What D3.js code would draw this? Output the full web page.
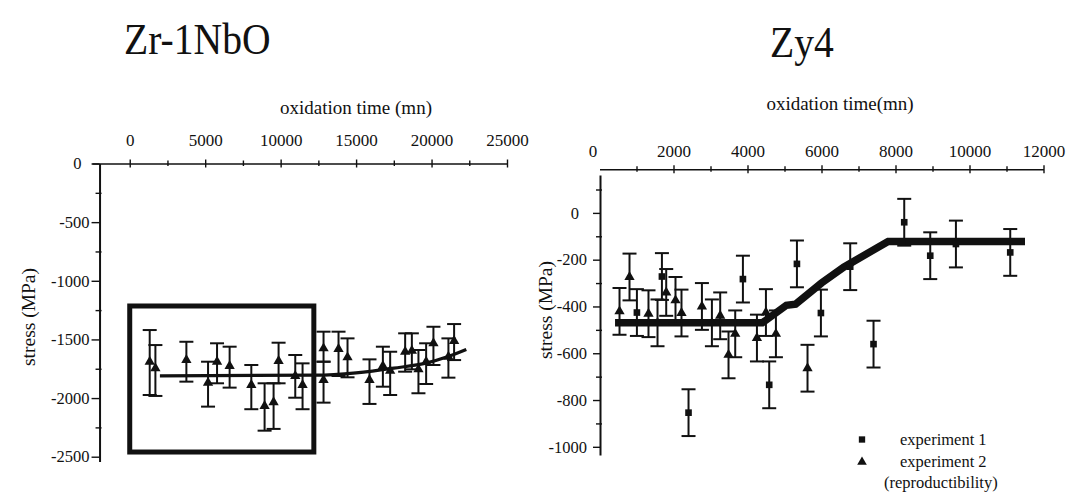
<!DOCTYPE html>
<html>
<head>
<meta charset="utf-8">
<script src="https://cdn.jsdelivr.net/npm/d3@7"></script>
<style>
  body { margin: 0; background: #fff; }
  text { font-family: "Liberation Serif", "Times New Roman", serif; fill: #111; }
</style>
</head>
<body>
<div class="canvas"></div>
<script>
// ---- Zr-1NbO (left panel) ----
const zrTime      = [1324, 1701, 3754, 5190, 5786, 6620, 8057, 8937, 9533, 9864, 10969, 11453, 12843, 12843, 13836, 14432, 15888, 16775, 17258, 18251, 18695, 19132, 19642, 20125, 21118, 21495];
const zrStress    = [-1690, -1746, -1676, -1869, -1690, -1727, -1888, -2067, -2036, -1684, -1812, -1888, -1576, -1846, -1582, -1653, -1846, -1727, -1767, -1605, -1596, -1755, -1690, -1533, -1647, -1514];
const zrErrTop    = [-1420, -1548, -1520, -1690, -1533, -1562, -1718, -1874, -1874, -1528, -1633, -1704, -1434, -1690, -1434, -1491, -1670, -1562, -1605, -1448, -1448, -1590, -1533, -1392, -1491, -1369];
const zrErrBottom = [-1974, -1982, -1860, -2073, -1874, -1911, -2095, -2278, -2263, -1874, -1997, -2095, -1690, -2039, -1812, -1823, -2050, -1903, -1974, -1775, -1755, -1959, -1880, -1718, -1826, -1676];
const zrFitTime   = [2000, 12300, 15000, 17500, 19700, 21000, 22300];
const zrFitStress = [-1810, -1805, -1785, -1745, -1700, -1650, -1585];
const zrBoxTime   = [0, 12200];
const zrBoxStress = [-1215, -2460];
const zrTicksX    = [0, 5000, 10000, 15000, 20000, 25000];
const zrTicksY    = [0, -500, -1000, -1500, -2000, -2500];

// ---- Zy4 (right panel) ----
const zyExp1Time   = [1011, 1687, 2406, 3876, 4587, 5336, 5984, 6776, 7406, 8236, 8939, 9633, 11101];
const zyExp1Stress = [-426, -272, -854, -283, -735, -218, -428, -230, -561, -40, -183, -133, -169];
const zyExp2Time   = [541, 811, 1324, 1568, 1803, 2054, 2216, 2768, 3038, 3262, 3487, 3668, 4255, 4498, 4768, 5622];
const zyExp2Stress = [-421, -274, -431, -470, -340, -374, -428, -400, -470, -440, -607, -517, -535, -426, -517, -664];
const zyErr        = 100;
const zyFitTime    = [420, 4400, 5050, 5300, 6000, 6600, 7800, 11500];
const zyFitStress  = [-470, -470, -395, -390, -300, -232, -122, -122];
const zyTicksX     = [0, 2000, 4000, 6000, 8000, 10000, 12000];
const zyTicksY     = [0, -200, -400, -600, -800, -1000];

const ink = '#111';
const serif = '"Liberation Serif", "Times New Roman", serif';
const plain = d => String(d);   // "-500", "10000": hyphen, no thousands comma

const svg = d3.select('.canvas')
  .append('svg')
  .attr('width', 1070)
  .attr('height', 492);

// scales
const xL = d3.scaleLinear().domain([-2500, 25000]).range([92, 507]);
const yL = d3.scaleLinear().domain([0, -2540]).range([163.5, 461.4]);
const xR = d3.scaleLinear().domain([0, 12000]).range([599.5, 1043.5]);
const yR = d3.scaleLinear().domain([162, -1035]).range([175, 455]);

// top axis with ticks crossing the line
const topAxis = (x, y0, major, minor, pad) => {
  const g = svg.append('g').attr('transform', `translate(0,${y0})`);
  g.call(d3.axisTop(x).tickValues(major).tickFormat(plain).tickSize(4).tickSizeOuter(0).tickPadding(pad));
  g.selectAll('.tick line').attr('y1', 4).attr('stroke', ink).attr('stroke-width', 1.4);
  g.select('.domain').attr('stroke', ink).attr('stroke-width', 1.6);
  g.selectAll('text').style('font-size', '17px').style('font-family', serif);
  const m = svg.append('g').attr('transform', `translate(0,${y0})`)
    .call(d3.axisTop(x).tickValues(minor).tickSize(3).tickFormat(''));
  m.select('.domain').remove();
  m.selectAll('.tick line').attr('y1', 2.5).attr('stroke', ink).attr('stroke-width', 1.4);
  return g;
};

const leftAxis = (y, x0, major, minor, size, pad) => {
  const g = svg.append('g').attr('transform', `translate(${x0},0)`);
  g.call(d3.axisLeft(y).tickValues(major).tickFormat(plain).tickSize(size).tickSizeOuter(0).tickPadding(pad));
  g.selectAll('.tick line').attr('stroke', ink).attr('stroke-width', 1.4);
  g.select('.domain').attr('stroke', ink).attr('stroke-width', 2);
  g.selectAll('text').style('font-size', '16.5px').style('font-family', serif)
    .attr('dx', d => d === 0 ? -8 : 0);
  const m = svg.append('g').attr('transform', `translate(${x0},0)`)
    .call(d3.axisLeft(y).tickValues(minor).tickSize(3).tickFormat(''));
  m.select('.domain').remove();
  m.selectAll('.tick line').attr('x2', -4).attr('x1', 2).attr('stroke', ink).attr('stroke-width', 1.4);
  return g;
};

const label = (x, y, txt, size, anchor) => svg.append('text')
  .attr('x', x).attr('y', y)
  .attr('text-anchor', anchor || 'start')
  .style('font-family', serif).style('font-size', size)
  .text(txt);

// ---- titles (scanned type is a little condensed) ----
label(0, 0, 'Zr-1NbO', '44px').attr('transform', 'translate(124,54) scale(0.9,1)');
label(0, 0, 'Zy4', '44px').attr('transform', 'translate(770,57) scale(0.9,1)');

// ---- left axes ----
topAxis(xL, yL(0), zrTicksX, d3.range(2500, 25000, 5000), 14);
leftAxis(yL, xL(-2000), zrTicksY, d3.range(-250, -2500, -500), 8, 2);

label(356, 114, 'oxidation time (mn)', '19px', 'middle');
label(0, 0, 'stress (MPa)', '19.5px', 'middle')
  .attr('transform', 'translate(28,317) rotate(-90)').attr('dy', '0.35em');

// highlight box
svg.append('rect')
  .attr('x', xL(zrBoxTime[0])).attr('y', yL(zrBoxStress[0]))
  .attr('width', xL(zrBoxTime[1]) - xL(zrBoxTime[0]))
  .attr('height', yL(zrBoxStress[1]) - yL(zrBoxStress[0]))
  .attr('fill', 'none').attr('stroke', ink).attr('stroke-width', 5);

// fit curve (left)
const lineL = d3.line().x(d => xL(d[0])).y(d => yL(d[1])).curve(d3.curveMonotoneX);
svg.append('path')
  .datum(d3.zip(zrFitTime, zrFitStress))
  .attr('d', lineL)
  .attr('fill', 'none').attr('stroke', ink).attr('stroke-width', 3.2);

// error bars (left)
const zrData = zrTime.map((t, i) => ({ t, s: zrStress[i], hi: zrErrTop[i], lo: zrErrBottom[i] }));
const ebL = svg.append('g').attr('stroke', ink).attr('stroke-width', 2);
zrData.forEach(d => {
  const cx = xL(d.t);
  ebL.append('line').attr('x1', cx).attr('x2', cx).attr('y1', yL(d.hi)).attr('y2', yL(d.lo));
  ebL.append('line').attr('x1', cx - 7).attr('x2', cx + 7).attr('y1', yL(d.hi)).attr('y2', yL(d.hi));
  ebL.append('line').attr('x1', cx - 7).attr('x2', cx + 7).attr('y1', yL(d.lo)).attr('y2', yL(d.lo));
});
const tri = d3.symbol().type(d3.symbolTriangle).size(46);
const sq = d3.symbol().type(d3.symbolSquare).size(44);
svg.append('g').selectAll('path')
  .data(zrData).enter().append('path')
  .attr('d', tri)
  .attr('transform', d => `translate(${xL(d.t)},${yL(d.s)})`)
  .attr('fill', ink);

// ---- right axes ----
const axR = topAxis(xR, 169.3, zyTicksX, d3.range(1000, 12000, 2000), 8.6);
axR.selectAll('.tick').filter(d => d === 0).select('line').remove();
axR.selectAll('text').attr('dx', d => d === 0 ? -7 : 0);
leftAxis(yR, 600, zyTicksY, [100, -100, -300, -500, -700, -900], 7, 6);

label(840, 110, 'oxidation time(mn)', '19px', 'middle');
label(0, 0, 'stress (MPa)', '19.5px', 'middle')
  .attr('transform', 'translate(545,310) rotate(-90)').attr('dy', '0.35em');

// fit line (right)
const lineR = d3.line().x(d => xR(d[0])).y(d => yR(d[1]));
svg.append('path')
  .datum(d3.zip(zyFitTime, zyFitStress))
  .attr('d', lineR)
  .attr('fill', 'none').attr('stroke', ink).attr('stroke-width', 7.5)
  .attr('stroke-linejoin', 'miter');

// error bars + markers (right)
const zy1 = zyExp1Time.map((t, i) => ({ t, s: zyExp1Stress[i], shape: sq }));
const zy2 = zyExp2Time.map((t, i) => ({ t, s: zyExp2Stress[i], shape: tri }));
const zyAll = zy2.concat(zy1);
const ebR = svg.append('g').attr('stroke', ink).attr('stroke-width', 2);
zyAll.forEach(d => {
  const cx = xR(d.t), top = yR(d.s + zyErr), bot = yR(d.s - zyErr);
  ebR.append('line').attr('x1', cx).attr('x2', cx).attr('y1', top).attr('y2', bot);
  ebR.append('line').attr('x1', cx - 7).attr('x2', cx + 7).attr('y1', top).attr('y2', top);
  ebR.append('line').attr('x1', cx - 7).attr('x2', cx + 7).attr('y1', bot).attr('y2', bot);
});
svg.append('g').selectAll('path')
  .data(zyAll).enter().append('path')
  .attr('d', d => d.shape())
  .attr('transform', d => `translate(${xR(d.t)},${yR(d.s)})`)
  .attr('fill', ink);

// legend
const legend = svg.append('g');
legend.append('path').attr('d', d3.symbol().type(d3.symbolSquare).size(40)()).attr('transform', 'translate(862,439.5)').attr('fill', ink);
legend.append('path').attr('d', d3.symbol().type(d3.symbolTriangle).size(40)()).attr('transform', 'translate(862,462)').attr('fill', ink);
label(900, 445, 'experiment 1', '16.5px');
label(900, 467, 'experiment 2', '16.5px');
label(884, 488, '(reproductibility)', '16.5px');
</script>
</body>
</html>
